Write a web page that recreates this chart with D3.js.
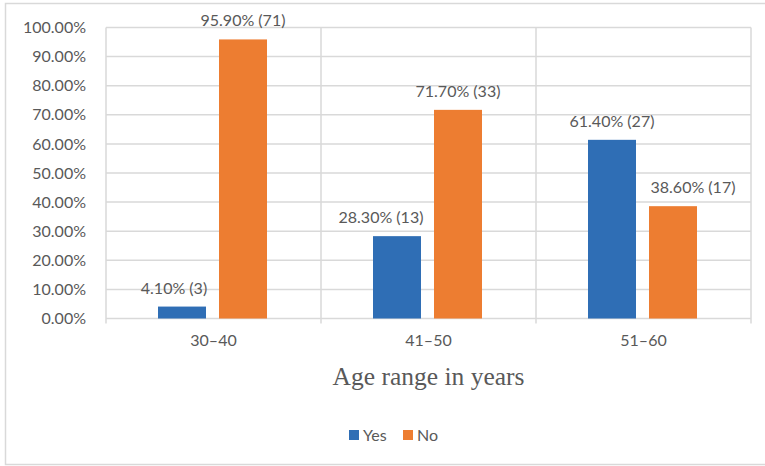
<!DOCTYPE html>
<html>
<head>
<meta charset="utf-8">
<script src="https://cdn.jsdelivr.net/npm/d3@7"></script>
<style>
  html, body { margin: 0; padding: 0; background: #fff; }
  svg { display: block; }
</style>
</head>
<body>
<svg id="chart" width="765" height="466"></svg>
<script>
const categories = ["30–40", "41–50", "51–60"];
const seriesNames = ["Yes", "No"];
const yesValues = [4.10, 28.30, 61.40];
const noValues = [95.90, 71.70, 38.60];
const yesCounts = [3, 13, 27];
const noCounts = [71, 33, 17];
const yTicks = [0, 10, 20, 30, 40, 50, 60, 70, 80, 90, 100];
const axisTitle = "Age range in years";

const colors = { Yes: "#2F6EB5", No: "#ED7D31" };
const textColor = "#595959";
const gridColor = "#D9D9D9";
const font = "Lato, 'Open Sans', sans-serif";
// manual label nudges (as placed in the original)
const labelNudge = { Yes: [-8, -16, 0], No: [0, 0, 20] };

const rows = categories.map((c, i) => ({
  cat: c,
  vals: [
    { s: "Yes", v: yesValues[i], n: yesCounts[i], i },
    { s: "No", v: noValues[i], n: noCounts[i], i }
  ]
}));

const svg = d3.select("#chart");
const pLeft = 106, pRight = 751, pTop = 27.5, pBottom = 318.5;

// outer border
svg.append("rect").attr("x", 5.5).attr("y", 3.5).attr("width", 770).attr("height", 461)
  .attr("fill", "#fff").attr("stroke", gridColor).attr("stroke-width", 1.5);

const x = d3.scaleBand().domain(categories).range([pLeft, pRight]).padding(0);
const bw = x.bandwidth();
const x1 = d3.scaleBand().domain(seriesNames)
  .range([bw * 52 / 215, bw * 161 / 215]).paddingInner(13 / 61).paddingOuter(0);
const y = d3.scaleLinear().domain([0, 100]).range([pBottom, pTop]);

// horizontal gridlines
svg.append("g").selectAll("line").data(yTicks).join("line")
  .attr("x1", pLeft).attr("x2", pRight)
  .attr("y1", d => y(d)).attr("y2", d => y(d))
  .attr("stroke", gridColor).attr("stroke-width", 1.5);

// vertical gridlines at category boundaries (extend below axis as tick marks)
const bounds = categories.map(c => x(c)).concat([pRight]);
svg.append("g").selectAll("line").data(bounds).join("line")
  .attr("x1", d => d).attr("x2", d => d)
  .attr("y1", pTop).attr("y2", pBottom + 5)
  .attr("stroke", gridColor).attr("stroke-width", 1.5);

// y axis labels
const yAxis = d3.axisLeft(y).tickValues(yTicks).tickSize(0).tickPadding(0)
  .tickFormat(d => d3.format(".2f")(d) + "%");
const ya = svg.append("g").attr("transform", `translate(86,0)`).call(yAxis);
ya.select(".domain").remove();
ya.selectAll("text").attr("fill", textColor).style("font-family", font).style("font-size", "16px");

// x axis labels
const xAxis = d3.axisBottom(x).tickSize(0).tickPadding(0);
const xa = svg.append("g").attr("transform", `translate(0,${pBottom + 16})`).call(xAxis);
xa.select(".domain").remove();
xa.selectAll("text").attr("fill", textColor).style("font-family", font).style("font-size", "16px");

// bars
const groups = svg.append("g").selectAll("g").data(rows).join("g")
  .attr("transform", d => `translate(${x(d.cat)},0)`);
groups.selectAll("rect").data(d => d.vals).join("rect")
  .attr("x", d => x1(d.s)).attr("width", x1.bandwidth())
  .attr("y", d => y(d.v)).attr("height", d => y(0) - y(d.v))
  .attr("fill", d => colors[d.s]);

// data labels
groups.selectAll("text").data(d => d.vals).join("text")
  .attr("x", d => x1(d.s) + x1.bandwidth() / 2 + labelNudge[d.s][d.i])
  .attr("y", d => y(d.v) - 13)
  .attr("text-anchor", "middle")
  .attr("fill", textColor)
  .style("font-family", font).style("font-size", "16px")
  .text(d => d3.format(".2f")(d.v) + "% (" + d.n + ")");

// axis title
svg.append("text").attr("x", (pLeft + pRight) / 2).attr("y", 385)
  .attr("text-anchor", "middle").attr("fill", textColor)
  .style("font-family", "'Liberation Serif', 'Times New Roman', serif").style("font-size", "25.5px")
  .text(axisTitle);

// legend
const legend = svg.append("g").attr("transform", "translate(349,430)");
const items = [{ s: "Yes", dx: 0 }, { s: "No", dx: 54 }];
const li = legend.selectAll("g").data(items).join("g").attr("transform", d => `translate(${d.dx},0)`);
li.append("rect").attr("width", 10).attr("height", 10).attr("fill", d => colors[d.s]);
li.append("text").attr("x", 14).attr("y", 10.5).attr("fill", textColor)
  .style("font-family", font).style("font-size", "16px").text(d => d.s);
</script>
</body>
</html>
